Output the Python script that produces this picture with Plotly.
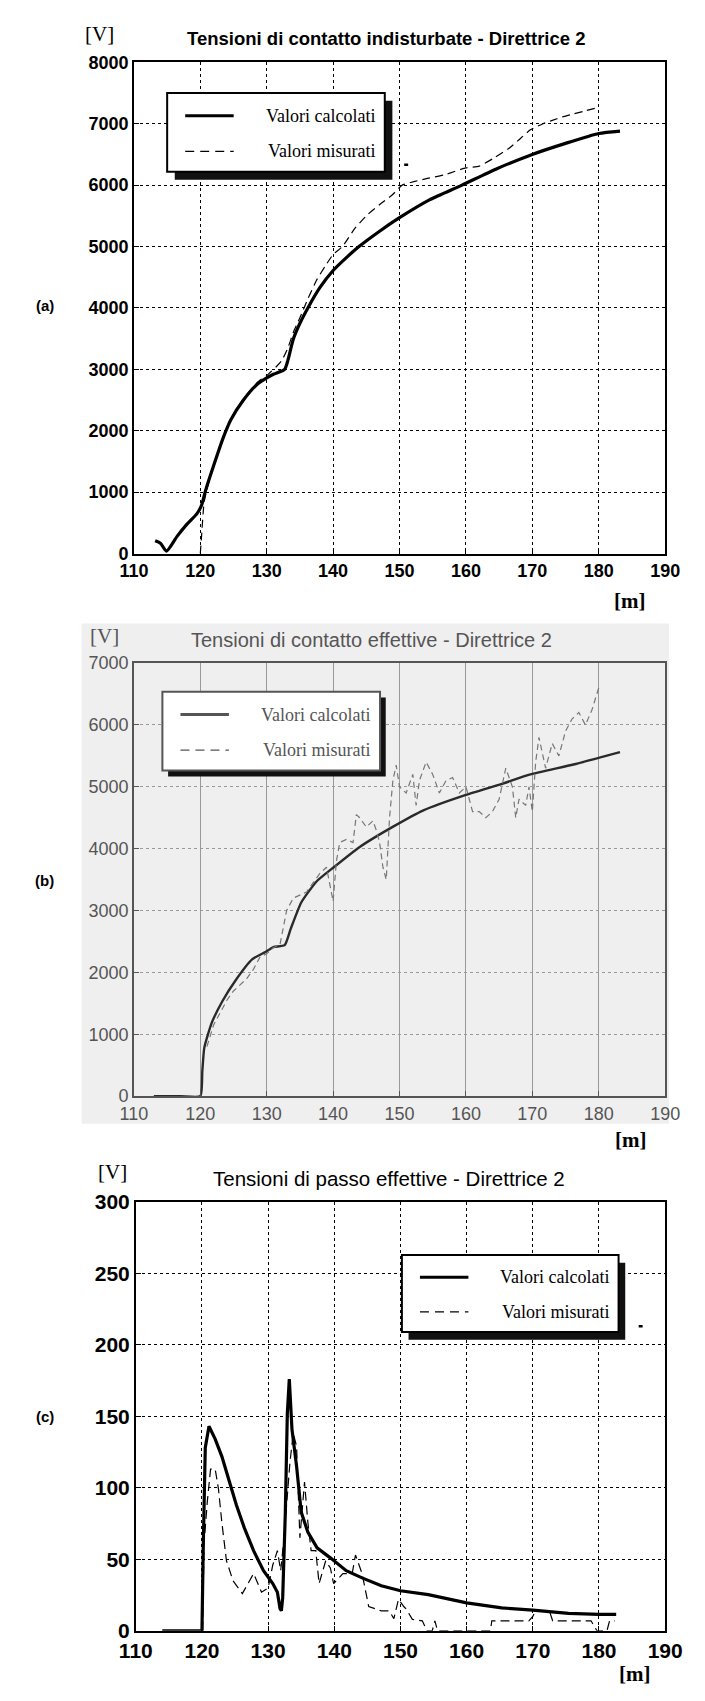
import plotly.graph_objects as go

W, H = 705, 1701

# ---------------- data ----------------
# (a) Tensioni di contatto indisturbate
a_calc_x = [113.2, 114.0, 114.9, 116.5, 118.0, 119.5, 120.2, 120.8, 122.0, 123.5, 124.6, 126.5,
            128.5, 130.0, 131.0, 132.7, 133.2, 134.0, 135.0, 136.2, 138.0, 140.0, 142.0, 143.9,
            147.0, 150.0, 154.5, 159.4, 164.5, 170.0, 175.0, 180.0, 183.2]
a_calc_y = [210, 170, 40, 280, 480, 650, 790, 1030, 1430, 1900, 2180, 2500,
            2750, 2860, 2920, 3000, 3150, 3490, 3750, 4000, 4330, 4610, 4820, 5000,
            5250, 5470, 5760, 6000, 6260, 6500, 6680, 6840, 6880]
a_meas_x = [120.0, 120.2, 120.6, 122.0, 124.6, 126.5, 128.5, 130.0, 131.5, 132.3, 133.2, 134.0,
            135.0, 136.2, 137.5, 138.8, 140.0, 141.4, 143.3, 145.2, 147.2, 148.8, 150.4, 152.3,
            154.2, 156.8, 160.0, 162.0, 164.2, 166.5, 168.0, 169.7, 171.6, 172.9, 174.5,
            176.2, 178.0, 179.7]
a_meas_y = [0, 300, 850, 1450, 2200, 2520, 2780, 2900, 3050, 3150, 3350, 3600,
            3840, 4150, 4450, 4680, 4870, 5000, 5300, 5520, 5700, 5830, 6000, 6060,
            6110, 6170, 6280, 6310, 6440, 6600, 6740, 6900, 7000, 7050, 7110,
            7160, 7210, 7260]
a_mark_x = [150.7, 151.3]
a_mark_y = [6330, 6330]

# (b) Tensioni di contatto effettive
b_calc_x = [113.0, 117.0, 120.0, 120.3, 120.6, 121.7, 123.3, 125.3, 127.8, 129.8, 131.0, 132.7,
            133.6, 135.2, 137.5, 140.1, 143.9, 149.1, 153.6, 160.0, 165.2, 169.7, 176.2, 183.2]
b_calc_y = [0, 0, 0, 400, 780, 1180, 1530, 1870, 2210, 2330, 2410, 2440,
            2700, 3130, 3470, 3700, 4020, 4360, 4620, 4870, 5040, 5200, 5360, 5560]
b_meas_x = [121, 122, 123, 124, 125, 126, 127, 128, 129, 130, 131, 132, 133, 134, 135, 136,
            137, 138, 139, 139.5, 140, 140.5, 141, 142, 143, 143.5, 144, 145, 146, 146.5, 147,
            147.5, 148, 148.5, 149, 149.5, 150, 151, 152, 152.5, 153, 154, 155, 156, 157, 158,
            159, 160, 161, 162, 163, 164, 165, 166, 167, 167.5, 168, 169, 169.5, 170, 170.5,
            171, 172, 173, 174, 175, 176, 177, 178, 179, 180]
b_meas_y = [800, 1150, 1350, 1550, 1700, 1800, 1900, 2050, 2250, 2300, 2400, 2450, 3000, 3200,
            3250, 3300, 3450, 3600, 3700, 3400, 3150, 3800, 4100, 4150, 4100, 4550, 4500, 4350,
            4450, 4300, 4100, 3700, 3500, 4500, 5100, 5350, 5000, 4900, 5200, 4700, 5100, 5400,
            5200, 4900, 5100, 5150, 4900, 5000, 4600, 4600, 4500, 4600, 4800, 5300, 5000, 4500,
            4800, 4700, 5000, 4600, 5400, 5800, 5300, 5700, 5500, 5900, 6100, 6200, 6000, 6250,
            6600]

# (c) Tensioni di passo effettive
c_calc_x = [114.0, 120.0, 120.2, 120.5, 121.06, 122.0, 123.0, 124.0, 125.2, 126.4, 127.8, 129.3,
            130.7, 131.4, 131.8, 132.0, 132.2, 132.6, 132.9, 133.2, 133.6, 134.3, 135.0, 136.0,
            137.4, 139.4, 141.8, 144.2, 147.1, 150.0, 154.2, 160.0, 165.3, 170.0, 175.4, 180.0,
            182.6]
c_calc_y = [0, 0, 60, 128, 143, 134, 122, 106, 88, 72, 56, 42,
            33, 27, 15.5, 14, 23, 83, 152, 176, 141, 115, 83, 69,
            58, 51, 42, 37, 31.5, 28, 25.3, 19.5, 16, 14.5, 12.2, 11.5,
            11.5]
c_meas_x = [120.1, 120.3, 120.8, 121.3, 122.0, 122.5, 123.0, 123.7, 124.7, 126.1, 127.8, 129.0,
            130.0, 130.7, 131.4, 131.9, 132.4, 132.9, 133.3, 133.8, 134.3, 134.8, 135.5, 136.0,
            136.5, 137.2, 137.7, 138.7, 139.4, 139.9, 140.3, 141.3, 142.7, 143.2, 144.2, 145.2,
            147.1, 148.3, 149.0, 149.7, 150.5, 150.9, 151.8, 153.3, 154.0, 154.8, 155.2, 155.6,
            163.6, 163.8, 169.4, 170.0, 170.4, 172.5, 173.0, 178.8, 179.7, 181.2, 181.6, 182.4]
c_meas_y = [0, 60, 90, 113, 113, 99, 76, 49, 35, 26, 40, 27,
            30, 46, 56, 42, 65, 95, 118, 138, 129, 65, 104, 76,
            56, 56, 33, 49, 44, 33, 35, 40, 40, 53, 40, 17,
            14, 14, 8.5, 22, 17, 15, 8, 7, 0, 0, 7, 0,
            0, 7, 7, 10, 14, 14, 7, 7, 0, 0, 7, 7]
c_mark_x = [186.0, 186.6]
c_mark_y = [213, 213]

titles = ["Tensioni di contatto indisturbate - Direttrice 2",
          "Tensioni di contatto effettive - Direttrice 2",
          "Tensioni di passo effettive - Direttrice 2"]
legend_labels = ["Valori calcolati", "Valori misurati"]
panel_labels = ["(a)", "(b)", "(c)"]

# ---------------- layout helpers ----------------
def px(x):
    return x / W

def py(y):
    return 1 - y / H

fig = go.Figure()

# panel b scanned-gray background
shapes = [dict(type="rect", xref="paper", yref="paper", x0=px(68), x1=px(686), y0=py(1127), y1=py(620),
               fillcolor="#efefef", line=dict(width=0), layer="below")]

# traces
fig.add_trace(go.Scatter(x=a_calc_x, y=a_calc_y, mode="lines",
                         line=dict(color="black", width=3.2, shape="spline", smoothing=0.6),
                         xaxis="x", yaxis="y", showlegend=False))
fig.add_trace(go.Scatter(x=a_meas_x, y=a_meas_y, mode="lines",
                         line=dict(color="black", width=1.2, dash="8px,5px", shape="spline", smoothing=0.5),
                         xaxis="x", yaxis="y", showlegend=False))
fig.add_trace(go.Scatter(x=a_mark_x, y=a_mark_y, mode="lines", line=dict(color="black", width=2.5),
                         xaxis="x", yaxis="y", showlegend=False))

fig.add_trace(go.Scatter(x=b_calc_x, y=b_calc_y, mode="lines",
                         line=dict(color="#2a2a2a", width=2.4, shape="spline", smoothing=0.5),
                         xaxis="x2", yaxis="y2", showlegend=False))
fig.add_trace(go.Scatter(x=b_meas_x, y=b_meas_y, mode="lines",
                         line=dict(color="#777777", width=1.2, dash="6px,4px"),
                         xaxis="x2", yaxis="y2", showlegend=False))

fig.add_trace(go.Scatter(x=c_calc_x, y=c_calc_y, mode="lines", line=dict(color="black", width=3.2),
                         xaxis="x3", yaxis="y3", showlegend=False))
fig.add_trace(go.Scatter(x=c_meas_x, y=c_meas_y, mode="lines",
                         line=dict(color="black", width=1.2, dash="9px,5px"),
                         xaxis="x3", yaxis="y3", showlegend=False))
fig.add_trace(go.Scatter(x=c_mark_x, y=c_mark_y, mode="lines", line=dict(color="black", width=2.5),
                         xaxis="x3", yaxis="y3", showlegend=False))

# panels geometry (pixels): left, right, top, bottom
panels = [
    dict(l=123, r=682, t=51, b=549, yr=[0, 8000], dy=1000, col="black", tf=18, bold=True,
         gridx="dot", gridc="black", title_y=27, title_x=388, title_size=18.5, v=(87, 22), m=(645, 597),
         lab_y=298, leg=(158, 387, 82, 162), shadow=(8, 8), tick_color="black", tbold=True),
    dict(l=123, r=682, t=660, b=1099, yr=[0, 7000], dy=1000, col="#555555", tf=18, bold=False,
         gridx="solid", gridc="#999999", title_y=637, title_x=373, title_size=20, v=(92, 633), m=(646, 1143),
         lab_y=880, leg=(153, 382, 689, 769), shadow=(6, 6), tick_color="#555555", tbold=False),
    dict(l=125, r=682, t=1206, b=1641, yr=[0, 300], dy=50, col="black", tf=21, bold=True,
         gridx="dot", gridc="black", title_y=1182, title_x=391, title_size=20.5, v=(101, 1176), m=(650, 1685),
         lab_y=1424, leg=(405, 633, 1260, 1338), shadow=(7, 8), tick_color="black", tbold=False),
]

annotations = []
axes = {}
for i, p in enumerate(panels):
    sfx = "" if i == 0 else str(i + 1)
    weight = "bold" if p["bold"] else "normal"
    axes["xaxis" + sfx] = dict(
        domain=[px(p["l"]), px(p["r"])], anchor="y" + sfx, range=[110, 190], dtick=10, tick0=110,
        showgrid=True, gridcolor=p["gridc"], griddash=p["gridx"], gridwidth=1,
        showline=True, mirror=True, linecolor=p["col"], linewidth=1.6,
        ticks="inside", ticklen=5, tickcolor=p["col"], zeroline=False,
        tickfont=dict(family="Liberation Sans", size=p["tf"], color=p["tick_color"], weight=weight),
        fixedrange=True)
    axes["yaxis" + sfx] = dict(
        domain=[py(p["b"]), py(p["t"])], anchor="x" + sfx, range=p["yr"], dtick=p["dy"], tick0=0,
        showgrid=True, gridcolor=p["gridc"], griddash="dot", gridwidth=1,
        showline=True, mirror=True, linecolor=p["col"], linewidth=1.6,
        ticks="inside", ticklen=5, tickcolor=p["col"], zeroline=False,
        tickfont=dict(family="Liberation Sans", size=p["tf"], color=p["tick_color"], weight=weight),
        fixedrange=True)

    # title
    annotations.append(dict(text=titles[i], xref="paper", yref="paper", x=px(p["title_x"]), y=py(p["title_y"]),
                            showarrow=False, xanchor="center", yanchor="middle",
                            font=dict(family="Liberation Sans", size=p["title_size"], color=p["col"],
                                      weight="bold" if p["tbold"] else "normal")))
    # units
    annotations.append(dict(text="[V]", xref="paper", yref="paper", x=px(p["v"][0]), y=py(p["v"][1]),
                            showarrow=False, xanchor="center", yanchor="middle",
                            font=dict(family="Liberation Serif", size=21, color=p["col"])))
    annotations.append(dict(text="[m]", xref="paper", yref="paper", x=px(p["m"][0]), y=py(p["m"][1]),
                            showarrow=False, xanchor="center", yanchor="middle",
                            font=dict(family="Liberation Serif", size=21, color="black", weight="bold")))
    annotations.append(dict(text=panel_labels[i], xref="paper", yref="paper", x=px(29), y=py(p["lab_y"]),
                            showarrow=False, xanchor="center", yanchor="middle",
                            font=dict(family="Liberation Sans", size=15, color="black", weight="bold")))

    # legend box with shadow
    x0, x1, y0, y1 = p["leg"]
    sx, sy = p["shadow"]
    shapes.append(dict(type="rect", xref="paper", yref="paper", x0=px(x0 + sx), x1=px(x1 + sx),
                       y0=py(y1 + sy), y1=py(y0 + sy), fillcolor="#111111", line=dict(width=0)))
    shapes.append(dict(type="rect", xref="paper", yref="paper", x0=px(x0), x1=px(x1),
                       y0=py(y1), y1=py(y0), fillcolor="white",
                       line=dict(color=p["col"], width=2)))
    h = y1 - y0
    ly1 = y0 + 0.29 * h
    ly2 = y0 + 0.74 * h
    lx0 = x0 + 19
    lx1 = x0 + 70
    shapes.append(dict(type="line", xref="paper", yref="paper", x0=px(lx0), x1=px(lx1), y0=py(ly1), y1=py(ly1),
                       line=dict(color=p["col"], width=3)))
    shapes.append(dict(type="line", xref="paper", yref="paper", x0=px(lx0), x1=px(lx1), y0=py(ly2), y1=py(ly2),
                       line=dict(color=p["col"], width=1.3, dash="9px,6px")))
    for lab, yy in zip(legend_labels, [ly1, ly2]):
        annotations.append(dict(text=lab, xref="paper", yref="paper", x=px(x1 - 8), y=py(yy),
                                showarrow=False, xanchor="right", yanchor="middle",
                                font=dict(family="Liberation Serif", size=18, color=p["col"])))

fig.update_layout(
    width=W, height=H, margin=dict(l=0, r=0, t=0, b=0),
    paper_bgcolor="white", plot_bgcolor="rgba(255,255,255,0)",
    shapes=shapes, annotations=annotations, showlegend=False,
    **axes)

fig.write_html("out.html")
